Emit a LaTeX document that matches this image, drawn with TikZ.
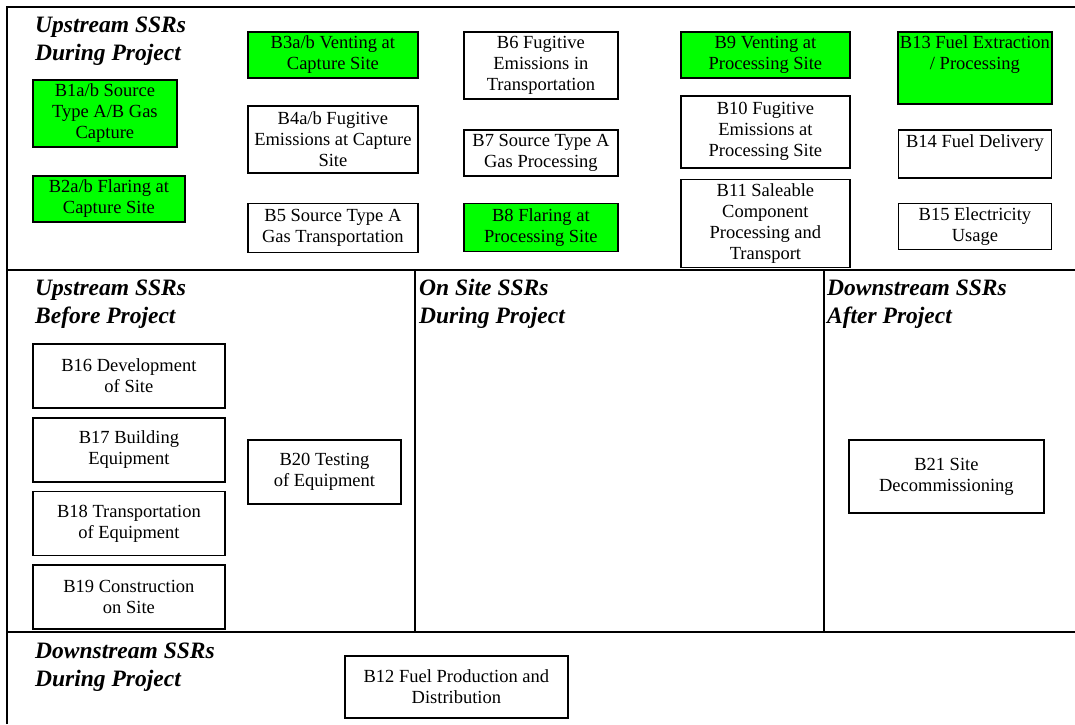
\documentclass[tikz,border=0pt]{standalone}
\usepackage{fontspec}
\setmainfont{Liberation Serif}
\usetikzlibrary{positioning}
\definecolor{ssrgreen}{RGB}{0,255,0}

\begin{document}
\begin{tikzpicture}[x=1pt,y=-1pt,
        ssr/.style={align=center,anchor=north west,draw,line width=1.8pt,inner sep=2pt,
          font=\fontsize{18.5}{21}\selectfont,node distance=8pt},
        flow/.style={ssr,fill=ssrgreen},
        head/.style={align=left,anchor=base west,inner sep=0pt,
          font=\fontsize{23.5}{28}\selectfont\bfseries\itshape},
        frame/.style={line width=2pt}
      ]

  \useasboundingbox (0,0) rectangle (1075,724);

  % frame of the five areas
  \draw[frame,line width=2.6pt] (7,724) -- (7,7) -- (1075,7);
  \draw[frame] (7,270) -- (1075,270);
  \draw[frame] (7,632) -- (1075,632);
  \draw[frame] (415,270) -- (415,632);
  \draw[frame] (824,270) -- (824,632);

  % base of a title is the base of its last line
  \node (hupdur)  [head] at (35,60)  {Upstream SSRs\\During Project};
  \node (hupbef)  [head] at (35,323) {Upstream SSRs\\Before Project};
  \node (honsite) [head] at (419,323) {On Site SSRs\\During Project};
  \node (hdnaft)  [head] at (827,323) {Downstream SSRs\\After Project};
  \node (hdndur)  [head] at (35,686) {Downstream SSRs\\During Project};

  % upstream during project
  \node (b1) [flow,minimum width=144pt,minimum height=67pt] at (32,79) {B1a/b Source\\Type A/B Gas\\Capture};
  \node (b2) [flow,minimum width=152pt,minimum height=46pt] at (32,175) {B2a/b Flaring at\\Capture Site};

  \node (b3) [flow,minimum width=170pt,minimum height=46pt] at (247,31) {B3a/b Venting at\\Capture Site};
  \node (b4) [ssr,minimum width=170pt,minimum height=67pt,below=26pt of b3] {B4a/b Fugitive\\Emissions at Capture\\Site};
  \node (b5) [ssr,minimum width=170pt,minimum height=49pt,below=29pt of b4] {B5 Source Type A\\Gas Transportation};

  \node (b6) [ssr,minimum width=154pt,minimum height=67pt] at (463,31) {B6 Fugitive\\Emissions in\\Transportation};
  \node (b7) [ssr,minimum width=154pt,minimum height=46pt,below=29pt of b6] {B7 Source Type A\\Gas Processing};
  \node (b8) [flow,minimum width=154pt,minimum height=48pt,below=26pt of b7] {B8 Flaring at\\Processing Site};

  \node (b9) [flow,minimum width=169pt,minimum height=46pt] at (680,31) {B9 Venting at\\Processing Site};
  \node (b10) [ssr,minimum width=169pt,minimum height=72pt,below=16pt of b9] {B10 Fugitive\\Emissions at\\Processing Site};
  \node (b11) [ssr,minimum width=169pt,minimum height=88pt,below=10pt of b10] {B11 Saleable\\Component\\Processing and\\Transport};

  \node (b13) [flow,minimum width=153pt,minimum height=72pt,text depth=30pt] at (897,31) {B13 Fuel Extraction\\/ Processing};
  \node (b14) [ssr,minimum width=153pt,minimum height=48pt,text depth=26pt,below=24pt of b13] {B14 Fuel Delivery};
  \node (b15) [ssr,minimum width=153pt,minimum height=46pt,below=24pt of b14] {B15 Electricity\\Usage};

  % upstream before project
  \node (b16) [ssr,minimum width=192pt,minimum height=64pt] at (32,343) {B16 Development\\of Site};
  \node (b17) [ssr,minimum width=192pt,minimum height=64pt,below=of b16] {B17 Building\\Equipment};
  \node (b18) [ssr,minimum width=192pt,minimum height=64pt,below=of b17] {B18 Transportation\\of Equipment};
  \node (b19) [ssr,minimum width=192pt,minimum height=64pt,below=of b18] {B19 Construction\\on Site};
  \node (b20) [ssr,minimum width=153pt,minimum height=64pt] at (247,439) {B20 Testing\\of Equipment};

  % downstream
  \node (b21) [ssr,minimum width=195pt,minimum height=73pt] at (848,439) {B21 Site\\Decommissioning};
  \node (b12) [ssr,minimum width=223pt,minimum height=62pt] at (344,655) {B12 Fuel Production and\\Distribution};

\end{tikzpicture}
\end{document}
